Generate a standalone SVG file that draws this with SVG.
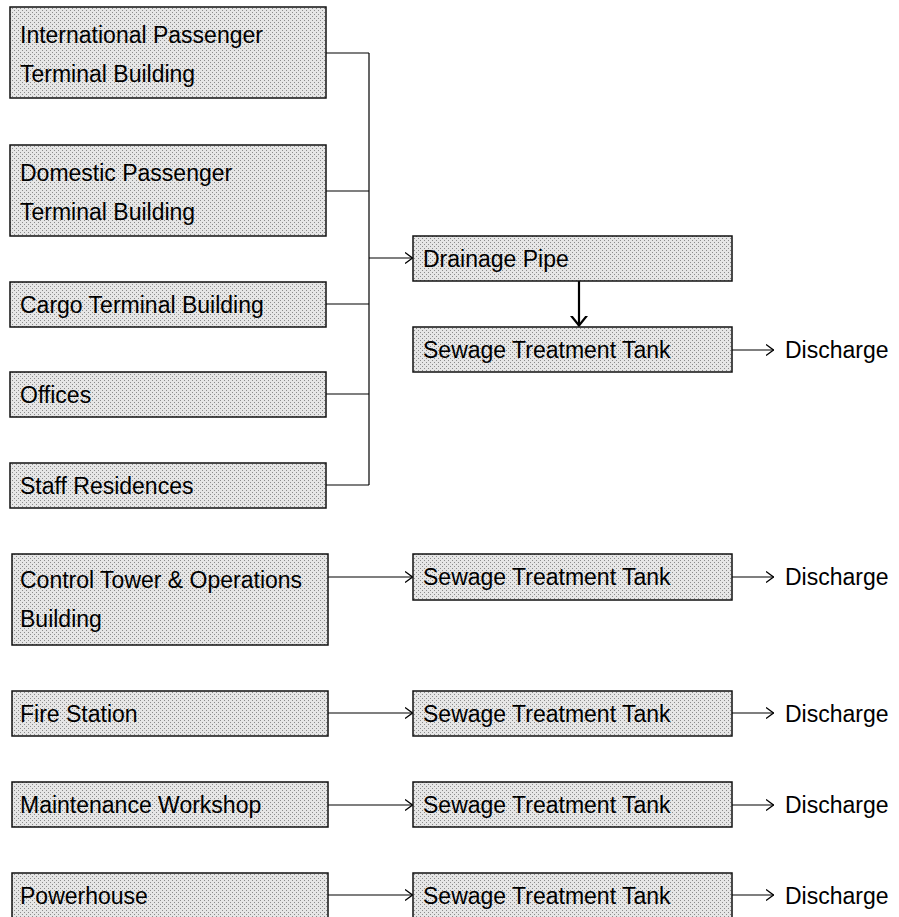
<svg xmlns="http://www.w3.org/2000/svg" width="899" height="917" viewBox="0 0 899 917">
  <defs>
    <pattern id="dots" width="4" height="4" patternUnits="userSpaceOnUse">
      <rect width="4" height="4" fill="#e6e6e6"/>
      <rect x="0" y="0" width="1" height="1" fill="#8c8c8c"/>
      <rect x="2" y="2" width="1" height="1" fill="#8c8c8c"/>
    </pattern>
    <marker id="chev" viewBox="0 0 8 12" refX="8" refY="6" markerWidth="8" markerHeight="12" markerUnits="userSpaceOnUse" orient="auto">
      <path d="M0,0.5 L7.5,6 L0,11.5" fill="none" stroke="#000" stroke-width="1.3"/>
    </marker>
    <marker id="chevBig" viewBox="0 0 11 18" refX="10.5" refY="9" markerWidth="11" markerHeight="18" markerUnits="userSpaceOnUse" orient="auto">
      <path d="M0,1 L10,9 L0,17" fill="none" stroke="#000" stroke-width="2.2"/>
    </marker>
  </defs>
  <style>
    .box { fill: url(#dots); stroke: #111; stroke-width: 1.5; }
    .t { font-family: "Liberation Sans", Arial, sans-serif; font-size: 23px; fill: #000; }
    .c { fill: none; stroke: #000; stroke-width: 1.2; }
    .ca { fill: none; stroke: #000; stroke-width: 1.2; marker-end: url(#chev); }
    .cb { fill: none; stroke: #000; stroke-width: 2.2; marker-end: url(#chevBig); }
  </style>

  <!-- Connectors -->
  <g id="connectors">
    <line class="c" x1="326" y1="53" x2="369" y2="53"/>
    <line class="c" x1="326" y1="191" x2="369" y2="191"/>
    <line class="c" x1="326" y1="304" x2="369" y2="304"/>
    <line class="c" x1="326" y1="394" x2="369" y2="394"/>
    <line class="c" x1="326" y1="485" x2="369" y2="485"/>
    <line class="c" x1="369" y1="53" x2="369" y2="485"/>
    <line class="ca" x1="369" y1="258" x2="413" y2="258"/>
    <line class="cb" x1="579" y1="281" x2="579" y2="326"/>
    <line class="ca" x1="732" y1="350" x2="774" y2="350"/>
    <line class="ca" x1="328" y1="577" x2="413" y2="577"/>
    <line class="ca" x1="732" y1="577" x2="774" y2="577"/>
    <line class="ca" x1="328" y1="713" x2="413" y2="713"/>
    <line class="ca" x1="732" y1="713" x2="774" y2="713"/>
    <line class="ca" x1="328" y1="805" x2="413" y2="805"/>
    <line class="ca" x1="732" y1="805" x2="774" y2="805"/>
    <line class="ca" x1="328" y1="895" x2="413" y2="895"/>
    <line class="ca" x1="732" y1="895" x2="774" y2="895"/>
  </g>

  <!-- Source nodes -->
  <g id="intl-terminal">
    <rect class="box" x="10" y="7" width="316" height="91"/>
    <text class="t" x="20" y="43">International Passenger</text>
    <text class="t" x="20" y="82">Terminal Building</text>
  </g>
  <g id="domestic-terminal">
    <rect class="box" x="10" y="145" width="316" height="91"/>
    <text class="t" x="20" y="181">Domestic Passenger</text>
    <text class="t" x="20" y="220">Terminal Building</text>
  </g>
  <g id="cargo-terminal">
    <rect class="box" x="10" y="282" width="316" height="45"/>
    <text class="t" x="20" y="313">Cargo Terminal Building</text>
  </g>
  <g id="offices">
    <rect class="box" x="10" y="372" width="316" height="45"/>
    <text class="t" x="20" y="403">Offices</text>
  </g>
  <g id="staff-residences">
    <rect class="box" x="10" y="463" width="316" height="45"/>
    <text class="t" x="20" y="494">Staff Residences</text>
  </g>
  <g id="control-tower">
    <rect class="box" x="12" y="554" width="316" height="91"/>
    <text class="t" x="20" y="588">Control Tower &amp; Operations</text>
    <text class="t" x="20" y="627">Building</text>
  </g>
  <g id="fire-station">
    <rect class="box" x="12" y="691" width="316" height="45"/>
    <text class="t" x="20" y="722">Fire Station</text>
  </g>
  <g id="maintenance-workshop">
    <rect class="box" x="12" y="782" width="316" height="45"/>
    <text class="t" x="20" y="813">Maintenance Workshop</text>
  </g>
  <g id="powerhouse">
    <rect class="box" x="12" y="873" width="316" height="50"/>
    <text class="t" x="20" y="904">Powerhouse</text>
  </g>

  <!-- Right column -->
  <g id="drainage-pipe">
    <rect class="box" x="413" y="236" width="319" height="45"/>
    <text class="t" x="423" y="267">Drainage Pipe</text>
  </g>
  <g id="tank-1">
    <rect class="box" x="413" y="327" width="319" height="45"/>
    <text class="t" x="423" y="358">Sewage Treatment Tank</text>
  </g>
  <g id="tank-2">
    <rect class="box" x="413" y="554" width="319" height="46"/>
    <text class="t" x="423" y="585">Sewage Treatment Tank</text>
  </g>
  <g id="tank-3">
    <rect class="box" x="413" y="691" width="319" height="45"/>
    <text class="t" x="423" y="722">Sewage Treatment Tank</text>
  </g>
  <g id="tank-4">
    <rect class="box" x="413" y="782" width="319" height="45"/>
    <text class="t" x="423" y="813">Sewage Treatment Tank</text>
  </g>
  <g id="tank-5">
    <rect class="box" x="413" y="873" width="319" height="50"/>
    <text class="t" x="423" y="904">Sewage Treatment Tank</text>
  </g>

  <!-- Discharge labels -->
  <g id="discharge-1"><text class="t" x="785" y="358">Discharge</text></g>
  <g id="discharge-2"><text class="t" x="785" y="585">Discharge</text></g>
  <g id="discharge-3"><text class="t" x="785" y="722">Discharge</text></g>
  <g id="discharge-4"><text class="t" x="785" y="813">Discharge</text></g>
  <g id="discharge-5"><text class="t" x="785" y="904">Discharge</text></g>
</svg>
